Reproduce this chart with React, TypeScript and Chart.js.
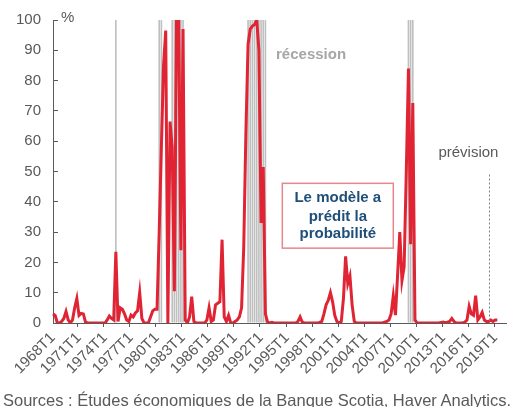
import React, { useEffect, useRef } from 'react';
import { Chart, registerables } from 'chart.js';

Chart.register(...registerables);

// ---- Data ----------------------------------------------------------------
const FIRST_YEAR = 1968;
const QUARTER_COUNT = 210; // 1968T1 .. 2020T2 (axis extent)

const quarterLabels: string[] = [];
for (let i = 0; i < QUARTER_COUNT; i++) {
  quarterLabels.push(`${FIRST_YEAR + Math.floor(i / 4)}T${(i % 4) + 1}`);
}

// Probabilité de récession (%), trimestrielle, 1968T1 .. 2019T2
const probability: number[] = [
  3, 2.5, 0, 0, // 1968
  0.5, 1.5, 3.8, 1, // 1969
  0, 1, 5, 8.1, // 1970
  2.5, 3.2, 3, 0.3, // 1971
  0, 0, 0, 0, // 1972
  0, 0, 0, 0, // 1973
  0, 1, 2.3, 1.5, // 1974
  1, 23.5, 0.5, 5, // 1975
  4.5, 3, 1, 0.5, // 1976
  2.6, 2, 3.3, 4, // 1977
  10, 1.5, 0, 0, // 1978
  0, 2, 4, 4.5, // 1979
  4.5, 30, 58, 85, // 1980
  96.5, 0, 66.5, 58, // 1981
  10.5, 100, 100, 24, // 1982
  97, 1, 0, 2, // 1983
  8.7, 0.5, 0, 0, // 1984
  0, 0, 0, 1, // 1985
  5, 0.5, 1, 6, // 1986
  6.5, 7, 27.5, 2, // 1987
  0.5, 2.5, 0, 0, // 1988
  0.5, 1, 2, 5, // 1989
  25, 63, 92, 97, // 1990
  98, 98.5, 100, 90, // 1991
  33, 51.5, 3, 0.3, // 1992
  0, 0.2, 0, 0, // 1993
  0, 0, 0, 0, // 1994
  0, 0, 0, 0, // 1995
  0, 0.5, 2, 0.3, // 1996
  0, 0, 0, 0, // 1997
  0, 0, 0, 0.2, // 1998
  0.5, 3, 6, 7.5, // 1999
  10, 7, 2.5, 0.5, // 2000
  0, 0.5, 8, 22, // 2001
  13, 15.5, 6, 0.5, // 2002
  0, 0, 0, 0, // 2003
  0, 0, 0, 0, // 2004
  0, 0, 0, 0, // 2005
  0, 0.3, 0.5, 1, // 2006
  3, 9, 2.6, 16, // 2007
  30, 14, 18.5, 50, // 2008
  84, 26, 72.6, 1, // 2009
  0, 0, 0, 0, // 2010
  0, 0, 0, 0, // 2011
  0, 0, 0, 0.2, // 2012
  0.3, 0, 0.3, 0.5, // 2013
  1.5, 0.5, 0, 0, // 2014
  0, 0, 0.3, 1, // 2015
  5.5, 3, 2.5, 9, // 2016
  1, 2, 3.5, 1, // 2017
  0.5, 0.5, 1, 0.5, // 2018
  1, 1, // 2019
];

// Trimestres de récession (bandes grises)
const recessionQuarters: string[] = [
  '1975T2',
  '1980T2', '1980T3',
  '1981T4', '1982T1', '1982T2', '1982T3', '1982T4', '1983T1',
  '1990T3', '1990T4', '1991T1', '1991T2', '1991T3', '1991T4', '1992T1', '1992T2', '1992T3',
  '2009T1', '2009T2', '2009T3',
];

// Étiquettes affichées sur l'axe horizontal
const xTickLabels: string[] = [
  '1968T1', '1971T1', '1974T1', '1977T1', '1980T1', '1983T1', '1986T1', '1989T1', '1992T1',
  '1995T1', '1998T1', '2001T1', '2004T1', '2007T1', '2010T1', '2013T1', '2016T1', '2019T1',
];

const yTicks: number[] = [0, 10, 20, 30, 40, 50, 60, 70, 80, 90, 100];

const forecastStart = '2018T2';

const RECESSION_VALUE = 100;

// ---- Styles ----------------------------------------------------------------
const FONT = '"Liberation Sans", Arial, Helvetica, sans-serif';
const AXIS_GREY = '#595959';
const RED = '#e12434';

const recessionData = quarterLabels.map((q) => (recessionQuarters.includes(q) ? RECESSION_VALUE : null));
const probabilityData = quarterLabels.map((_, i) => (i < probability.length ? probability[i] : null));
const tickSet = new Set(xTickLabels);

const annotationPlugin = {
  id: 'scotiaAnnotations',
  afterDatasetsDraw(chart: any) {
    const { ctx, chartArea } = chart;
    const x = chart.scales.x;
    const y = chart.scales.y;
    ctx.save();

    // forecast dotted line
    const fx = Math.round(x.getPixelForValue(quarterLabels.indexOf(forecastStart))) + 0.5;
    ctx.strokeStyle = '#7f7f7f';
    ctx.lineWidth = 1;
    ctx.setLineDash([2, 2]);
    ctx.beginPath();
    ctx.moveTo(fx, y.getPixelForValue(49));
    ctx.lineTo(fx, chartArea.bottom);
    ctx.stroke();
    ctx.setLineDash([]);

    // "%" unit
    ctx.fillStyle = AXIS_GREY;
    ctx.font = `15px ${FONT}`;
    ctx.textAlign = 'left';
    ctx.textBaseline = 'middle';
    ctx.fillText('%', chartArea.left + 8, chartArea.top - 2);

    // "récession"
    ctx.fillStyle = '#a6a6a6';
    ctx.font = `bold 15px ${FONT}`;
    ctx.fillText('récession', x.getPixelForValue(102.9), y.getPixelForValue(88.4));

    // "prévision"
    ctx.fillStyle = AXIS_GREY;
    ctx.font = `15px ${FONT}`;
    ctx.fillText('prévision', x.getPixelForValue(177.8), y.getPixelForValue(56));

    // boxed note
    const bx1 = x.getPixelForValue(105.8);
    const bx2 = x.getPixelForValue(157);
    const by1 = y.getPixelForValue(46.1);
    const by2 = y.getPixelForValue(24.7);
    ctx.fillStyle = '#ffffff';
    ctx.fillRect(bx1, by1, bx2 - bx1, by2 - by1);
    ctx.strokeStyle = '#e8868f';
    ctx.lineWidth = 1.5;
    ctx.strokeRect(bx1, by1, bx2 - bx1, by2 - by1);

    ctx.fillStyle = '#1f4e79';
    ctx.font = `bold 15px ${FONT}`;
    ctx.textAlign = 'center';
    const cx = (bx1 + bx2) / 2;
    ctx.fillText('Le modèle a', cx, y.getPixelForValue(41.2));
    ctx.fillText('prédit la', cx, y.getPixelForValue(34.9));
    ctx.fillText('probabilité', cx, y.getPixelForValue(29.3));

    ctx.restore();
  },
};

export default function App() {
  const canvasRef = useRef<HTMLCanvasElement>(null);

  useEffect(() => {
    const canvas = canvasRef.current;
    if (!canvas) return;
    const chart = new Chart(canvas, {
      type: 'line',
      data: {
        labels: quarterLabels,
        datasets: [
          {
            type: 'line',
            label: 'Probabilité de récession',
            data: probabilityData,
            borderColor: RED,
            backgroundColor: RED,
            borderWidth: 3,
            pointRadius: 0,
            tension: 0,
            fill: false,
            order: 1,
          } as any,
          {
            type: 'bar',
            label: 'Récession',
            data: recessionData,
            backgroundColor: '#bfbfbf',
            borderWidth: 0,
            barPercentage: 0.75,
            categoryPercentage: 1,
            order: 2,
          } as any,
        ],
      },
      options: {
        responsive: false,
        animation: false,
        devicePixelRatio: 1,
        layout: { padding: { top: 20, right: 9, bottom: 0, left: 0 } },
        plugins: {
          legend: { display: false },
          tooltip: { enabled: false },
        },
        scales: {
          x: {
            type: 'category',
            offset: false,
            afterFit: (scale: any) => {
              scale.height = 84;
              scale.paddingLeft = 0;
              scale.paddingRight = 0;
            },
            border: { display: true, color: AXIS_GREY, width: 1 },
            grid: {
              display: true,
              drawOnChartArea: false,
              drawTicks: true,
              tickLength: 4,
              color: (ctx: any) => (tickSet.has(quarterLabels[ctx.index]) ? AXIS_GREY : 'rgba(0,0,0,0)'),
            },
            ticks: {
              autoSkip: false,
              minRotation: 45,
              maxRotation: 45,
              padding: 2,
              color: AXIS_GREY,
              font: { family: FONT, size: 15 },
              callback: (_v: any, index: number) => (tickSet.has(quarterLabels[index]) ? quarterLabels[index] : ''),
            },
          },
          y: {
            min: yTicks[0],
            max: yTicks[yTicks.length - 1],
            afterFit: (scale: any) => {
              scale.width = 53;
              scale.paddingTop = 0;
              scale.paddingBottom = 0;
            },
            afterBuildTicks: (scale: any) => {
              scale.ticks = yTicks.map((v) => ({ value: v }));
            },
            border: { display: true, color: AXIS_GREY, width: 1 },
            grid: {
              display: true,
              drawOnChartArea: false,
              drawTicks: true,
              tickLength: -5,
              color: AXIS_GREY,
            },
            ticks: {
              padding: 17,
              color: AXIS_GREY,
              font: { family: FONT, size: 15 },
            },
          },
        },
      },
      plugins: [annotationPlugin],
    } as any);
    return () => chart.destroy();
  }, []);

  return (
    <div
      style={{
        position: 'absolute',
        left: 0,
        top: 0,
        width: 515,
        height: 407,
        overflow: 'hidden',
        background: '#ffffff',
      }}
    >
      <canvas ref={canvasRef} width={515} height={407} style={{ display: 'block', width: 515, height: 407 }} />
      <div
        style={{
          position: 'absolute',
          left: 3,
          top: 392,
          fontFamily: FONT,
          fontSize: 16.5,
          lineHeight: '16px',
          color: AXIS_GREY,
          whiteSpace: 'nowrap',
        }}
      >
        Sources : Études économiques de la Banque Scotia, Haver Analytics.
      </div>
    </div>
  );
}
